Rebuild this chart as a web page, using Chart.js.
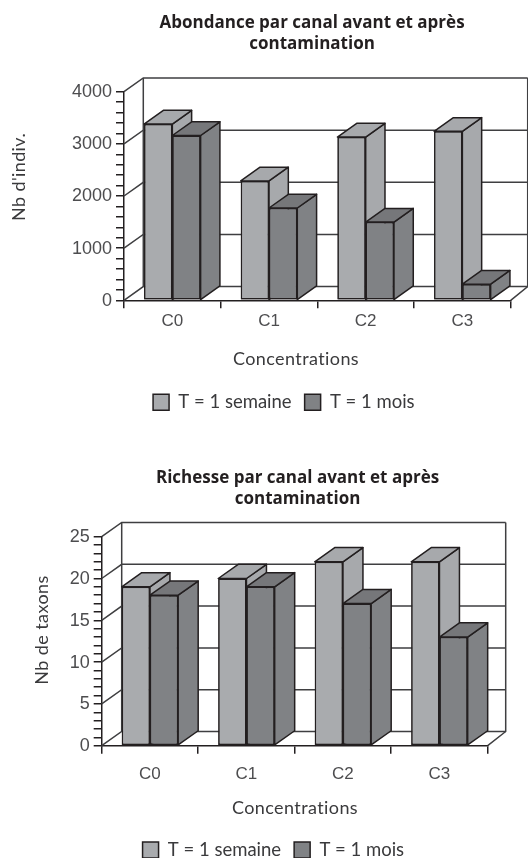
<!DOCTYPE html>
<html>
<head>
<meta charset="utf-8">
<script src="https://cdn.jsdelivr.net/npm/chart.js@4"></script>
<style>
  html, body { margin: 0; padding: 0; background: #fff; }
  canvas { display: block; }
</style>
</head>
<body>
<canvas id="abondance" width="528" height="430"></canvas>
<canvas id="richesse" width="528" height="428"></canvas>
<script>
// values
const categories = ['C0', 'C1', 'C2', 'C3'];
const seriesNames = ['T = 1 semaine', 'T = 1 mois'];

const abondanceSemaine = [3380, 2290, 3130, 3240];
const abondanceMois = [3160, 1770, 1500, 310];

const richesseSemaine = [19, 20, 22, 22];
const richesseMois = [18, 19, 17, 13];

const abondanceTitle = ['Abondance par canal avant et après', 'contamination'];
const richesseTitle = ['Richesse par canal avant et après', 'contamination'];

const INK = '#231f20';
const WALL = '#3f3f41';
const TICK_TEXT = '#4d4d4f';
const LIGHT = { front: '#a9abae', top: '#a7a9ac', side: '#a7a9ac' };
const DARK = { front: '#808285', top: '#76777a', side: '#808285' };

// draws the fake 3d box: walls behind the bars, top and side of each bar
const box3d = {
    id: 'box3d',
    beforeDatasetsDraw(chart, args, opts) {
        const { ctx, scales: { x, y } } = chart;
        const { dx, dy, dxRight, major } = opts;
        const left = x.left, right = x.right, base = y.bottom, top = y.top;
        const wallL = left + dx, wallR = right + dxRight;

        ctx.save();
        ctx.strokeStyle = WALL;
        ctx.lineWidth = 1.5;

        // grid lines along the back wall and the left wall
        y.ticks.forEach((t) => {
            if (t.value % major !== 0) return;
            const py = y.getPixelForValue(t.value);
            ctx.beginPath();
            ctx.moveTo(left, py);
            ctx.lineTo(wallL, py - dy);
            ctx.lineTo(wallR, py - dy);
            ctx.stroke();
        });

        // walls
        ctx.beginPath();
        ctx.moveTo(wallL, top - dy);
        ctx.lineTo(wallL, base - dy);
        ctx.moveTo(wallR, top - dy);
        ctx.lineTo(wallR, base - dy);
        ctx.lineTo(right, base);
        ctx.stroke();
        ctx.restore();
    },
    // second series has to come over the side of the first one, so the
    // bars are drawn again here from left to right with their faces
    afterDatasetsDraw(chart, args, opts) {
        const { ctx } = chart;
        const { dx, dy } = opts;

        chart.data.datasets.forEach((dataset, i) => {
            const colors = dataset.faces;
            chart.getDatasetMeta(i).data.forEach((bar) => {
                const l = bar.x - bar.width / 2, r = bar.x + bar.width / 2;

                bar.draw(ctx);

                ctx.save();
                ctx.strokeStyle = INK;
                ctx.lineWidth = 1.5;
                ctx.lineJoin = 'round';

                ctx.fillStyle = colors.side;
                ctx.beginPath();
                ctx.moveTo(r, bar.y);
                ctx.lineTo(r + dx, bar.y - dy);
                ctx.lineTo(r + dx, bar.base - dy);
                ctx.lineTo(r, bar.base);
                ctx.closePath();
                ctx.fill();
                ctx.stroke();

                ctx.fillStyle = colors.top;
                ctx.beginPath();
                ctx.moveTo(l, bar.y);
                ctx.lineTo(l + dx, bar.y - dy);
                ctx.lineTo(r + dx, bar.y - dy);
                ctx.lineTo(r, bar.y);
                ctx.closePath();
                ctx.fill();
                ctx.stroke();
                ctx.restore();
            });
        });
    },
    // title and legend are not centred on the canvas in the original
    afterLayout(chart, args, opts) {
        const legend = chart.legend;
        const h = legend.bottom - legend.top;
        chart.titleBlock.left += opts.titleShift;
        chart.titleBlock.right += opts.titleShift;
        legend.left += opts.legendShift;
        legend.right += opts.legendShift;
        legend.top = opts.legendTop;
        legend.bottom = opts.legendTop + h;
    },
    // axis names sit off centre too
    afterDraw(chart, args, opts) {
        const { ctx } = chart;
        ctx.save();
        ctx.fillStyle = '#3a3a3c';
        ctx.font = '18px Lato';
        ctx.letterSpacing = '0.4px';
        ctx.textAlign = 'center';
        ctx.textBaseline = 'middle';
        ctx.fillText('Concentrations', opts.xName.x, opts.xName.y);
        ctx.translate(opts.yName.x, opts.yName.y);
        ctx.rotate(-Math.PI / 2);
        ctx.fillText(opts.yName.text, 0, 0);
        ctx.restore();
    }
};

function renderChart(id, o) {
    new Chart(document.getElementById(id), {
        type: 'bar',
        data: {
            labels: categories,
            datasets: [
                {
                    label: seriesNames[0],
                    data: o.first,
                    backgroundColor: LIGHT.front,
                    borderColor: INK,
                    borderWidth: 1.5,
                    borderSkipped: false,
                    faces: LIGHT
                },
                {
                    label: seriesNames[1],
                    data: o.second,
                    backgroundColor: DARK.front,
                    borderColor: INK,
                    borderWidth: 1.5,
                    borderSkipped: false,
                    faces: DARK
                }
            ]
        },
        plugins: [box3d],
        options: {
            responsive: false,
            animation: false,
            events: [],
            categoryPercentage: 0.585,
            barPercentage: 1,
            layout: { padding: { left: 0, top: 0, right: o.padRight, bottom: o.padBottom } },
            plugins: {
                tooltip: { enabled: false },
                title: {
                    display: true,
                    text: o.title,
                    color: INK,
                    font: { family: 'Open Sans', size: 17, weight: 'bold', lineHeight: o.titleLine + 'px' },
                    padding: o.titlePad
                },
                legend: {
                    position: 'bottom',
                    labels: {
                        boxWidth: 16,
                        boxHeight: 16,
                        padding: 13,
                        color: '#3a3a3c',
                        font: { family: 'Lato', size: 18.5 }
                    }
                },
                box3d: o.box
            },
            scales: {
                x: {
                    grid: { drawOnChartArea: false, tickLength: 8, color: INK, lineWidth: 1.5 },
                    border: { color: INK, width: 1.5 },
                    ticks: {
                        color: TICK_TEXT,
                        padding: o.xTickPad,
                        maxRotation: 0,
                        font: { family: 'Liberation Sans', size: 17 }
                    },
                    afterFit: (scale) => { scale.height = o.xAxisHeight; }
                },
                y: {
                    min: 0,
                    max: o.max,
                    grid: { drawOnChartArea: false, tickLength: 8, color: INK, lineWidth: 1.5 },
                    border: { color: INK, width: 1.5 },
                    ticks: {
                        stepSize: o.minor,
                        autoSkip: false,
                        color: TICK_TEXT,
                        padding: 4,
                        labelOffset: 0.5,
                        font: { family: 'Liberation Sans', size: 18 },
                        callback: (value) => (value % o.box.major === 0 ? value : '')
                    },
                    afterFit: (scale) => { scale.width = o.axisLeft; }
                }
            }
        }
    });
}

renderChart('abondance', {
    first: abondanceSemaine,
    second: abondanceMois,
    title: abondanceTitle,
    titleLine: 20.7,
    titlePad: { top: 13, bottom: 37.3 },
    max: 4000,
    minor: 200,
    axisLeft: 124,
    padRight: 17.3,
    padBottom: 58.2,
    xAxisHeight: 30,
    xTickPad: 3,
    box: {
        dx: 19.3, dy: 13.7, dxRight: 17, major: 1000,
        titleShift: 56.7, legendShift: 28.5, legendTop: 380,
        xName: { x: 296, y: 359 },
        yName: { x: 19, y: 177, text: "Nb d'indiv." }
    }
});

renderChart('richesse', {
    first: richesseSemaine,
    second: richesseMois,
    title: richesseTitle,
    titleLine: 21,
    titlePad: { top: 37.8, bottom: 26.9 },
    max: 25,
    minor: 1,
    axisLeft: 101.7,
    padRight: 40.3,
    padBottom: 25.8,
    xAxisHeight: 45,
    xTickPad: 10,
    box: {
        dx: 20, dy: 14.2, dxRight: 18, major: 5,
        titleShift: 53.7, legendShift: 29.5, legendTop: 397.7,
        xName: { x: 295, y: 378 },
        yName: { x: 42, y: 200, text: 'Nb de taxons' }
    }
});
</script>
</body>
</html>
